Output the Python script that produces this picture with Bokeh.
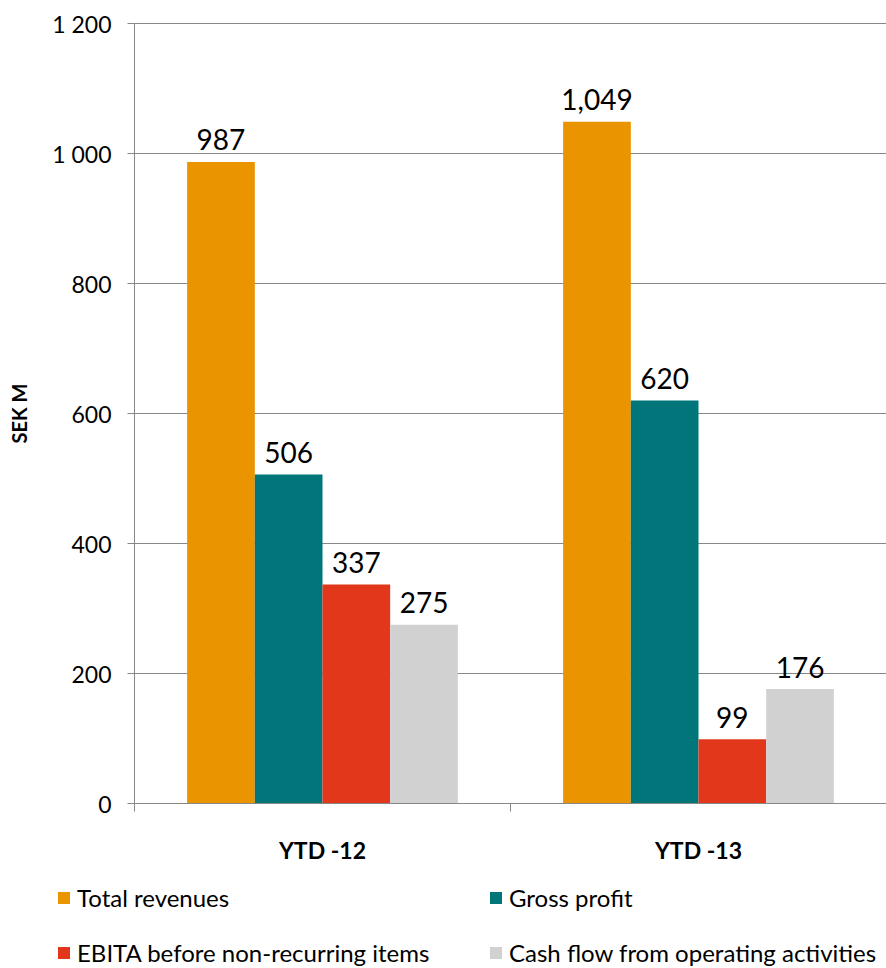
from bokeh.plotting import figure
from bokeh.models import (ColumnDataSource, Range1d, FixedTicker, Legend, LegendItem,
                          LinearAxis)
from bokeh.core.properties import value
from bokeh.embed import file_html
from bokeh.resources import INLINE

categories = ["YTD -12", "YTD -13"]
series_names = ["Total revenues", "Gross profit",
                "EBITA before non-recurring items", "Cash flow from operating activities"]
total_revenues = [987, 1049]
gross_profit = [506, 620]
ebita = [337, 99]
cash_flow = [275, 176]
y_ticks = [0, 200, 400, 600, 800, 1000, 1200]
y_tick_labels = ["0", "200", "400", "600", "800", "1 000", "1 200"]
y_max = 1200

series_values = [total_revenues, gross_profit, ebita, cash_flow]
colors = ["#EA9400", "#00767A", "#E3371B", "#D1D1D1"]
offsets = [-0.27, -0.09, 0.09, 0.27]
bar_w = 0.18
FONT = "Lato"
GREY = "#878787"

# pixel layout of the plotting area inside the 886x968 page
W, H = 886, 968
AX_LEFT, AX_TOP, AX_BOTTOM = 134, 23, 803
ncat = len(categories)
px_per_cat = (W - AX_LEFT) / ncat
px_per_unit = (AX_BOTTOM - AX_TOP) / y_max

x_range = Range1d(-AX_LEFT / px_per_cat, ncat)
y_range = Range1d(-(H - AX_BOTTOM) / px_per_unit, y_max + AX_TOP / px_per_unit)

p = figure(width=W, height=H, output_backend="svg", toolbar_location=None,
           x_range=x_range, y_range=y_range,
           x_axis_location=None, y_axis_location=None,
           min_border=0, min_border_left=0, min_border_right=0,
           min_border_top=0, min_border_bottom=0)
p.outline_line_color = None
p.grid.visible = False
p.xgrid.grid_line_color = None
p.ygrid.grid_line_color = None

# horizontal gridlines (from the tick values, spanning the category area)
grid_vals = [t for t in y_ticks if t != 0]
p.segment(x0=[0] * len(grid_vals), x1=[ncat] * len(grid_vals),
          y0=grid_vals, y1=grid_vals, line_color=GREY, line_width=1)

legend_items = []
for name, vals, col, off in zip(series_names, series_values, colors, offsets):
    xs = [i + 0.5 + off for i in range(ncat)]
    src = ColumnDataSource(dict(x=xs, top=vals, label=[f"{v:,}" for v in vals]))
    r = p.vbar(x="x", top="top", width=bar_w, bottom=0, source=src,
               fill_color=col, line_color=None)
    p.text(x="x", y="top", text="label", source=src, text_align="center",
           text_baseline="alphabetic", y_offset=-22, text_font_size="28px",
           text_font=value(FONT), text_color="#000000")
    legend_items.append(LegendItem(label=name, renderers=[r]))

# y axis at x = 0
yax = LinearAxis(fixed_location=0, bounds=(0, y_max))
yax.ticker = FixedTicker(ticks=y_ticks)
yax.major_label_overrides = {t: l for t, l in zip(y_ticks, y_tick_labels)}
yax.minor_tick_line_color = None
yax.major_tick_in = 0
yax.major_tick_out = 7
yax.major_tick_line_color = GREY
yax.axis_line_color = GREY
yax.major_label_text_font = FONT
yax.major_label_text_font_size = "23px"
yax.major_label_text_color = "#000000"
yax.major_label_standoff = 16
yax.axis_label = "SEK M"
yax.axis_label_text_font = FONT
yax.axis_label_text_font_style = "bold"
yax.axis_label_text_font_size = "20px"
yax.axis_label_text_color = "#000000"
yax.axis_label_standoff = 18
p.add_layout(yax, "left")

# x axis at y = 0: labels at category centers, ticks at category boundaries
xax = LinearAxis(fixed_location=0, bounds=(0, ncat))
xax.ticker = FixedTicker(ticks=[i + 0.5 for i in range(ncat)],
                         minor_ticks=list(range(ncat + 1)))
xax.major_label_overrides = {i + 0.5: c for i, c in enumerate(categories)}
xax.major_tick_line_color = None
xax.minor_tick_in = 0
xax.minor_tick_out = 8
xax.minor_tick_line_color = GREY
xax.axis_line_color = GREY
xax.major_label_text_font = FONT
xax.major_label_text_font_style = "bold"
xax.major_label_text_font_size = "23px"
xax.major_label_text_color = "#000000"
xax.major_label_standoff = 24
p.add_layout(xax, "below")

legend = Legend(items=legend_items, orientation="horizontal", ncols=2,
                location=(56, 1), border_line_color=None,
                background_fill_alpha=0, padding=0, margin=0,
                spacing=25, label_standoff=6, glyph_width=15, glyph_height=15,
                label_text_font=FONT, label_text_font_size="24px",
                label_text_color="#000000", label_height=30, label_width=386)
p.add_layout(legend, "center")

open("out.html", "w").write(file_html(p, INLINE))
